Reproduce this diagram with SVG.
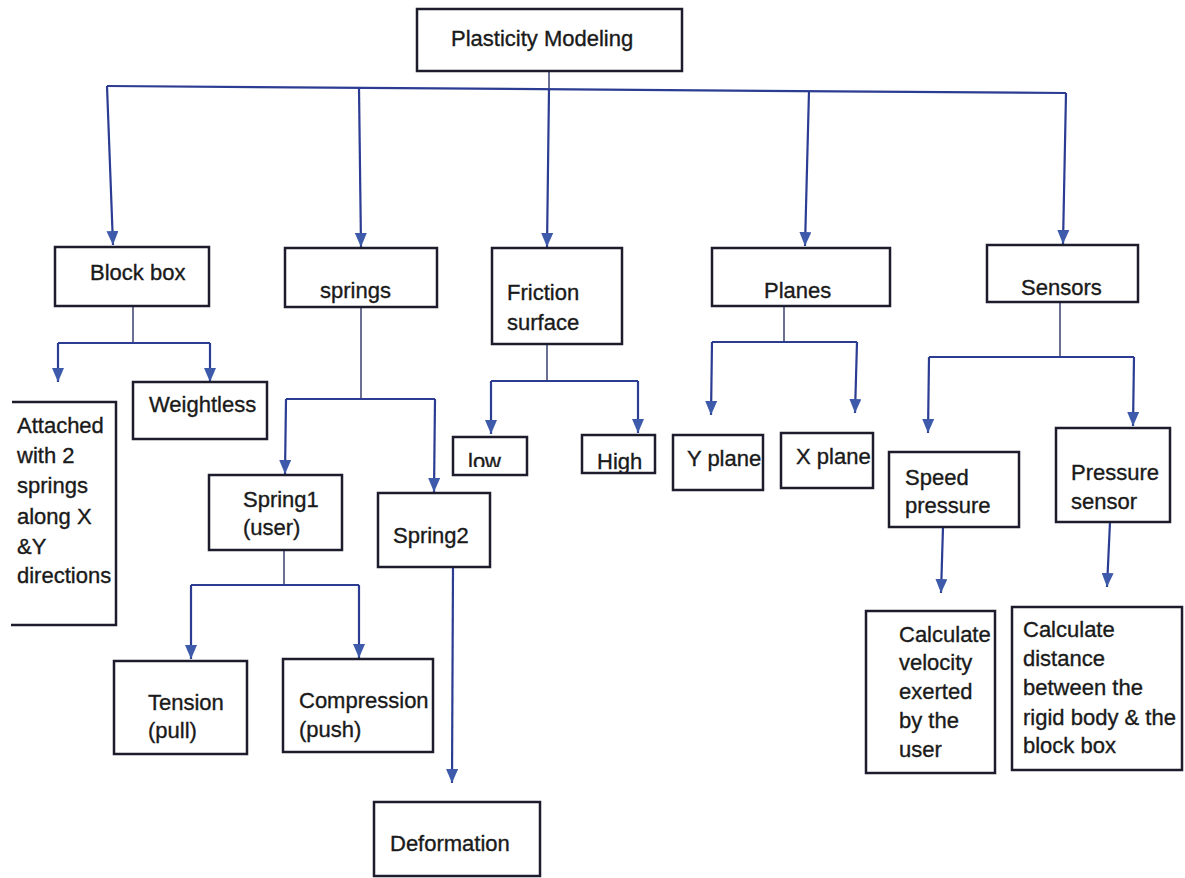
<svg xmlns="http://www.w3.org/2000/svg" width="1185" height="878" viewBox="0 0 1185 878">
<defs>
<style>
.box{fill:none;stroke:#1c1c2c;stroke-width:2.5}
.t{font-family:"Liberation Sans",Arial,sans-serif;font-size:22px;fill:#1a1a1a;stroke:#1a1a1a;stroke-width:0.35}
.ln{fill:none;stroke:#2b3c92;stroke-width:2.2}
.stem{fill:none;stroke:#3a3f6e;stroke-width:1.5}
.ar{fill:none;stroke:#2b3c92;stroke-width:2.2;marker-end:url(#ah)}
</style>
<marker id="ah" viewBox="0 0 14 12" refX="14" refY="6" markerWidth="14" markerHeight="12" markerUnits="userSpaceOnUse" orient="auto">
<path d="M0,0 L14,6 L0,12 z" fill="#3e5aaa"/>
</marker>
<clipPath id="clipLow"><rect x="453" y="437" width="74" height="30"/></clipPath>
<clipPath id="clipHigh"><rect x="582" y="435" width="73" height="37"/></clipPath>
</defs>
<rect width="1185" height="878" fill="#ffffff"/>

<g id="connectors">
<path class="stem" d="M549,71 L549,89"/>
<path class="ln" d="M107,86 L1066,93"/>
<path class="ar" d="M107,86 L113,245"/>
<path class="ar" d="M359,88 L361,247"/>
<path class="ar" d="M549,89 L547,247"/>
<path class="ar" d="M809,91 L805,246"/>
<path class="ar" d="M1066,93 L1063,244"/>

<path class="stem" d="M133,306 L133,343"/>
<path class="ln" d="M58,343 L210,343"/>
<path class="ar" d="M58,343 L58,382"/>
<path class="ar" d="M210,343 L210,382"/>

<path class="stem" d="M361,307 L361,399"/>
<path class="ln" d="M286,399 L435,399"/>
<path class="ar" d="M286,399 L285,474"/>
<path class="ar" d="M435,399 L434,492"/>

<path class="stem" d="M284,550 L284,585"/>
<path class="ln" d="M191,585 L359,585"/>
<path class="ar" d="M191,585 L191,659"/>
<path class="ar" d="M359,585 L359,658"/>

<path class="ar" d="M453,567 L452,783"/>

<path class="stem" d="M547,344 L547,381"/>
<path class="ln" d="M491,381 L638,381"/>
<path class="ar" d="M491,381 L491,434"/>
<path class="ar" d="M638,381 L638,433"/>

<path class="stem" d="M784,306 L784,342"/>
<path class="ln" d="M712,342 L857,342"/>
<path class="ar" d="M712,342 L711,415"/>
<path class="ar" d="M857,342 L855,413"/>

<path class="stem" d="M1060,302 L1060,357"/>
<path class="ln" d="M929,357 L1134,357"/>
<path class="ar" d="M929,357 L928,433"/>
<path class="ar" d="M1134,357 L1133,426"/>

<path class="ar" d="M943,527 L941,593"/>
<path class="ar" d="M1110,522 L1107,587"/>
</g>

<g id="plasticity-modeling">
<rect class="box" x="417" y="9" width="265" height="62"/>
<text class="t" x="451" y="46">Plasticity Modeling</text>
</g>

<g id="block-box">
<rect class="box" x="55" y="247" width="154" height="59"/>
<text class="t" x="90" y="280">Block box</text>
</g>

<g id="springs">
<rect class="box" x="285" y="248" width="152" height="59"/>
<text class="t" x="320" y="298">springs</text>
</g>

<g id="friction-surface">
<rect class="box" x="492" y="248" width="130" height="96"/>
<text class="t" x="507" y="300">Friction</text>
<text class="t" x="507" y="330">surface</text>
</g>

<g id="planes">
<rect class="box" x="712" y="248" width="178" height="58"/>
<text class="t" x="764" y="298">Planes</text>
</g>

<g id="sensors">
<rect class="box" x="987" y="245" width="151" height="57"/>
<text class="t" x="1021" y="295">Sensors</text>
</g>

<g id="attached">
<path class="box" d="M12,402 L116,402 L116,625 L11,625"/>
<text class="t" x="17" y="433">Attached</text>
<text class="t" x="17" y="463">with 2</text>
<text class="t" x="17" y="493">springs</text>
<text class="t" x="17" y="524">along X</text>
<text class="t" x="17" y="554">&amp;Y</text>
<text class="t" x="17" y="583">directions</text>
</g>

<g id="weightless">
<rect class="box" x="133" y="382" width="134" height="57"/>
<text class="t" x="149" y="412">Weightless</text>
</g>

<g id="spring1">
<rect class="box" x="209" y="475" width="133" height="75"/>
<text class="t" x="243" y="507">Spring1</text>
<text class="t" x="243" y="535">(user)</text>
</g>

<g id="spring2">
<rect class="box" x="378" y="493" width="112" height="74"/>
<text class="t" x="393" y="543">Spring2</text>
</g>

<g id="tension">
<rect class="box" x="114" y="661" width="133" height="93"/>
<text class="t" x="148" y="710">Tension</text>
<text class="t" x="148" y="738">(pull)</text>
</g>

<g id="compression">
<rect class="box" x="283" y="659" width="150" height="93"/>
<text class="t" x="299" y="708">Compression</text>
<text class="t" x="299" y="737">(push)</text>
</g>

<g id="deformation">
<rect class="box" x="374" y="802" width="166" height="74"/>
<text class="t" x="390" y="851">Deformation</text>
</g>

<g id="low">
<text class="t" x="468" y="469" clip-path="url(#clipLow)">low</text>
<rect class="box" x="453" y="437" width="74" height="38"/>
</g>

<g id="high">
<text class="t" x="597" y="469" clip-path="url(#clipHigh)">High</text>
<rect class="box" x="582" y="435" width="73" height="38"/>
</g>

<g id="y-plane">
<rect class="box" x="673" y="435" width="90" height="55"/>
<text class="t" x="687" y="466">Y plane</text>
</g>

<g id="x-plane">
<rect class="box" x="781" y="433" width="92" height="55"/>
<text class="t" x="796" y="464">X plane</text>
</g>

<g id="speed-pressure">
<rect class="box" x="889" y="452" width="130" height="75"/>
<text class="t" x="905" y="485">Speed</text>
<text class="t" x="905" y="513">pressure</text>
</g>

<g id="pressure-sensor">
<rect class="box" x="1056" y="428" width="114" height="94"/>
<text class="t" x="1071" y="480">Pressure</text>
<text class="t" x="1071" y="509">sensor</text>
</g>

<g id="calc-velocity">
<rect class="box" x="866" y="611" width="129" height="162"/>
<text class="t" x="899" y="642">Calculate</text>
<text class="t" x="899" y="670">velocity</text>
<text class="t" x="899" y="699">exerted</text>
<text class="t" x="899" y="728">by the</text>
<text class="t" x="899" y="757">user</text>
</g>

<g id="calc-distance">
<rect class="box" x="1012" y="607" width="170" height="163"/>
<text class="t" x="1023" y="637">Calculate</text>
<text class="t" x="1023" y="666">distance</text>
<text class="t" x="1023" y="695">between the</text>
<text class="t" x="1023" y="725">rigid body &amp; the</text>
<text class="t" x="1023" y="753">block box</text>
</g>
</svg>
